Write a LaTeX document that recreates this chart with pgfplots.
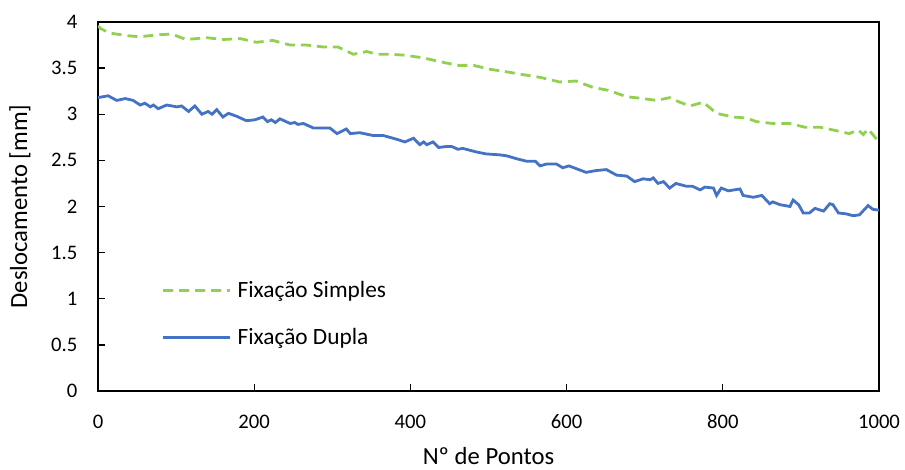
\documentclass[border=0pt]{standalone}
\usepackage{fontspec}
\setmainfont{Carlito}
\usepackage{pgfplots}
\pgfplotsset{compat=1.18}
\definecolor{simples}{RGB}{146,208,80}
\definecolor{dupla}{RGB}{68,114,196}

\pgfplotstableread{
x y
0 3.96
3 3.93
15 3.88
39 3.85
54 3.84
75 3.86
94 3.87
113 3.81
139 3.83
160 3.81
182 3.82
203 3.78
224 3.80
246 3.75
267 3.75
288 3.73
307 3.73
327 3.65
344 3.68
357 3.65
374 3.65
393 3.64
417 3.61
438 3.57
460 3.53
481 3.53
500 3.49
523 3.46
544 3.43
566 3.40
591 3.35
612 3.36
634 3.29
653 3.26
677 3.19
698 3.17
715 3.15
732 3.18
745 3.13
758 3.09
775 3.13
792 3.01
813 2.97
830 2.96
843 2.92
864 2.90
885 2.90
905 2.86
924 2.86
941 2.83
962 2.79
973 2.83
980 2.78
986 2.84
1000 2.70
}\simples

\pgfplotstableread{
x y
0 3.18
13 3.20
24 3.15
35 3.17
45 3.15
54 3.10
60 3.12
67 3.08
71 3.10
77 3.06
88 3.10
101 3.08
107 3.09
116 3.03
124 3.09
133 3.00
141 3.03
146 3.00
152 3.05
160 2.97
167 3.01
177 2.98
190 2.93
201 2.94
211 2.97
217 2.92
222 2.94
227 2.91
233 2.95
246 2.90
252 2.91
256 2.89
263 2.90
276 2.85
297 2.85
306 2.79
318 2.84
323 2.79
335 2.80
352 2.77
365 2.77
382 2.73
393 2.70
404 2.74
412 2.67
417 2.70
421 2.67
429 2.70
436 2.64
446 2.65
453 2.65
461 2.62
467 2.63
485 2.59
497 2.57
514 2.56
523 2.55
535 2.52
549 2.49
560 2.49
566 2.44
574 2.46
587 2.46
595 2.42
603 2.44
625 2.37
638 2.39
651 2.40
664 2.34
677 2.33
687 2.27
698 2.30
707 2.29
711 2.31
717 2.25
724 2.27
732 2.20
740 2.25
753 2.22
761 2.22
771 2.18
777 2.21
788 2.20
792 2.12
798 2.20
807 2.17
822 2.19
826 2.12
839 2.10
850 2.12
860 2.03
864 2.05
873 2.02
886 2.00
890 2.07
897 2.02
903 1.93
911 1.93
918 1.98
929 1.95
937 2.03
941 2.02
948 1.93
958 1.92
967 1.90
975 1.91
986 2.01
992 1.97
1000 1.96
}\dupla

\begin{document}
\begin{tikzpicture}
\begin{axis}[
  name=ax,
  scale only axis,
  width=585.75pt, height=276.75pt,
  xmin=0, xmax=1000, ymin=0, ymax=4,
  xtick={0,200,...,1000},
  ytick={0,0.5,...,4},
  tick align=inside,
  xtick pos=bottom, ytick pos=left,
  major tick length=5pt,
  axis line style={line width=1.1pt},
  tick style={line width=1pt, black},
  tick label style={font=\fontsize{15.5}{18}\selectfont},
  label style={font=\fontsize{18.5}{22}\selectfont, inner sep=0pt},
  /pgf/number format/assume math mode=true,
  /pgf/number format/1000 sep={},
  xticklabel style={anchor=center, yshift=-23.25pt},
  yticklabel style={anchor=east, xshift=-12pt},
  xlabel={Nº de Pontos},
  ylabel={Deslocamento [mm]},
  xlabel style={at={(axis description cs:0.5,-0.177)}, anchor=center},
  ylabel style={at={(axis description cs:-0.1,0.5)}, anchor=center},
  legend cell align=left,
  legend style={at={(0.081,0.112)}, anchor=south west, draw=none, fill=none,
    inner sep=0pt, font=\fontsize{17.5}{21}\selectfont, row sep=18pt},
  legend image code/.code={\draw[#1] (0pt,0pt) -- (50pt,0pt); \path (53pt,0pt);},
]
\addplot[simples, line width=2.1pt, dash pattern=on 7.5pt off 4.5pt] table[x=x,y=y] {\simples};
\addlegendentry{Fixação Simples}
\addplot[dupla, line width=2.1pt] table[x=x,y=y] {\dupla};
\addlegendentry{Fixação Dupla}
\end{axis}
\pgfresetboundingbox
\path[use as bounding box] ([xshift=-73.5pt,yshift=-59.25pt]ax.south west)
  rectangle ([xshift=19.5pt,yshift=16.5pt]ax.north east);
\end{tikzpicture}
\end{document}
